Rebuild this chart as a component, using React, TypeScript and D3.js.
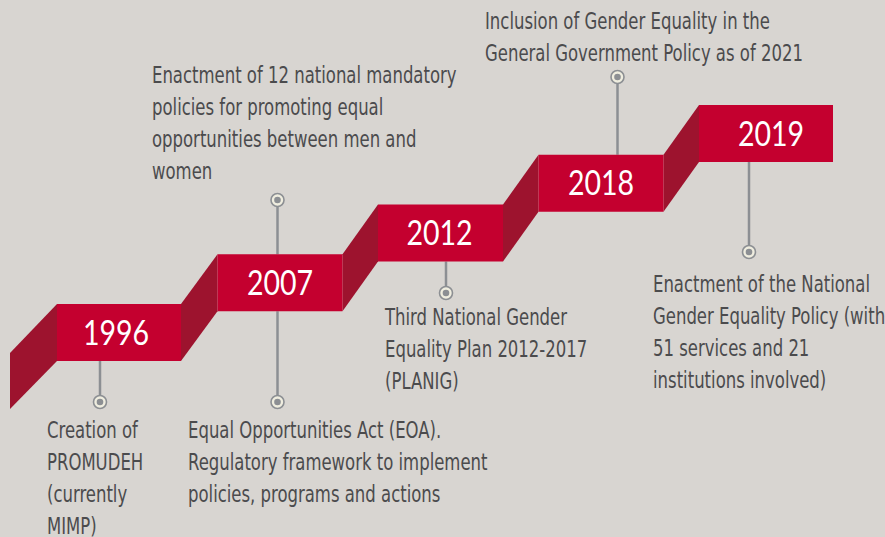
import React from "react";
import * as d3 from "d3";

const years: string[] = ["1996", "2007", "2012", "2018", "2019"];
const textAbove: string[][] = [
  [],
  [
    "Enactment of 12 national mandatory",
    "policies for promoting equal",
    "opportunities between men and",
    "women",
  ],
  [],
  ["Inclusion of Gender Equality in the", "General Government Policy as of 2021"],
  [],
];
const textBelow: string[][] = [
  ["Creation of", "PROMUDEH", "(currently", "MIMP)"],
  [
    "Equal Opportunities Act (EOA).",
    "Regulatory framework to implement",
    "policies, programs and actions",
  ],
  ["Third National Gender", "Equality Plan 2012-2017", "(PLANIG)"],
  [],
  [
    "Enactment of the National",
    "Gender Equality Policy (with",
    "51 services and 21",
    "institutions involved)",
  ],
];

// layout
const W = 885;
const H = 537;
const BOX_H = 57;
const boxW = [124, 125, 125, 125, 134];
const yearShift = [-3, 0, -1, 0, 5];
const pinOffset = [43, 60, 68, 79, 50];
const pinBelowEnd: (number | null)[] = [402, 402, 293, null, 252];
const pinAboveEnd: (number | null)[] = [null, 200, null, 77, null];
const belowPos: ([number, number] | null)[] = [[47, 438], [188, 438], [385, 325], null, [653, 292]];
const abovePos: ([number, number] | null)[] = [null, [152, 83], null, [485, 29], null];
const LINE_H = 32;
const DESC_SX = 0.815;

const BG = "#d8d5d1";
const RED = "#c4002f";
const DARK = "#9d132e";
const GRAY = "#8c8f93";
const TXT = "#4b4b4d";

export default function App() {
  const idx = d3.range(years.length);
  const x = d3.scaleLinear().domain([0, years.length - 1]).range([57, 699]);
  const y = d3.scaleLinear().domain([0, years.length - 1]).range([304, 105]);

  const line = d3.line<[number, number]>();

  const connectors: string[] = [];
  connectors.push(
    line([
      [10, y(0) + 49],
      [x(0), y(0)],
      [x(0), y(0) + BOX_H],
      [10, y(0) + 49 + BOX_H - 1],
    ]) + "Z"
  );
  for (let i = 0; i < years.length - 1; i++) {
    const r = x(i) + boxW[i];
    connectors.push(
      line([
        [r, y(i)],
        [x(i + 1), y(i + 1)],
        [x(i + 1), y(i + 1) + BOX_H],
        [r, y(i) + BOX_H],
      ]) + "Z"
    );
  }

  const descFont = "'DejaVu Sans Condensed', 'DejaVu Sans', sans-serif";

  const renderPin = (px: number, y1: number, y2: number, key: string) => (
    <g key={key}>
      <line x1={px} x2={px} y1={y1} y2={y2} stroke={GRAY} strokeWidth={2.5} />
      <circle cx={px} cy={y2} r={6.5} fill="#efeddf" stroke={GRAY} strokeWidth={1.6} />
      <circle cx={px} cy={y2} r={3.3} fill={GRAY} />
    </g>
  );

  const renderText = (lines: string[], pos: [number, number] | null, key: string) =>
    pos ? (
      <g key={key} transform={`translate(${pos[0]},${pos[1]}) scale(${DESC_SX},1)`}>
        <text x={0} y={0} fill={TXT} fontFamily={descFont} fontSize={22.5}>
          {lines.map((l, j) => (
            <tspan key={j} x={0} y={j * LINE_H}>
              {l}
            </tspan>
          ))}
        </text>
      </g>
    ) : null;

  return (
    <div style={{ position: "fixed", left: 0, top: 0 }}>
      <svg width={W} height={H} style={{ display: "block" }}>
        <rect width={W} height={H} fill={BG} />
        {idx.map((i) => {
          const px = x(i) + pinOffset[i];
          return (
            <g key={"p" + i}>
              {pinBelowEnd[i] !== null && renderPin(px, y(i) + BOX_H, pinBelowEnd[i] as number, "b")}
              {pinAboveEnd[i] !== null && renderPin(px, y(i), pinAboveEnd[i] as number, "a")}
            </g>
          );
        })}
        {connectors.map((d, i) => (
          <path key={"c" + i} d={d} fill={DARK} />
        ))}
        {idx.map((i) => {
          const cx = x(i) + boxW[i] / 2 + yearShift[i];
          return (
            <g key={"b" + i}>
              <rect x={x(i)} y={y(i)} width={boxW[i]} height={BOX_H} fill={RED} />
              <g transform={`translate(${cx},${y(i) + BOX_H / 2}) scale(0.84,1)`}>
                <text
                  x={0}
                  y={0}
                  dy="0.36em"
                  textAnchor="middle"
                  fill="#ffffff"
                  fontFamily="Lato, 'Open Sans', sans-serif"
                  fontSize={34}
                >
                  {years[i]}
                </text>
              </g>
            </g>
          );
        })}
        {idx.map((i) => renderText(textBelow[i], belowPos[i], "tb" + i))}
        {idx.map((i) => renderText(textAbove[i], abovePos[i], "ta" + i))}
      </svg>
    </div>
  );
}
